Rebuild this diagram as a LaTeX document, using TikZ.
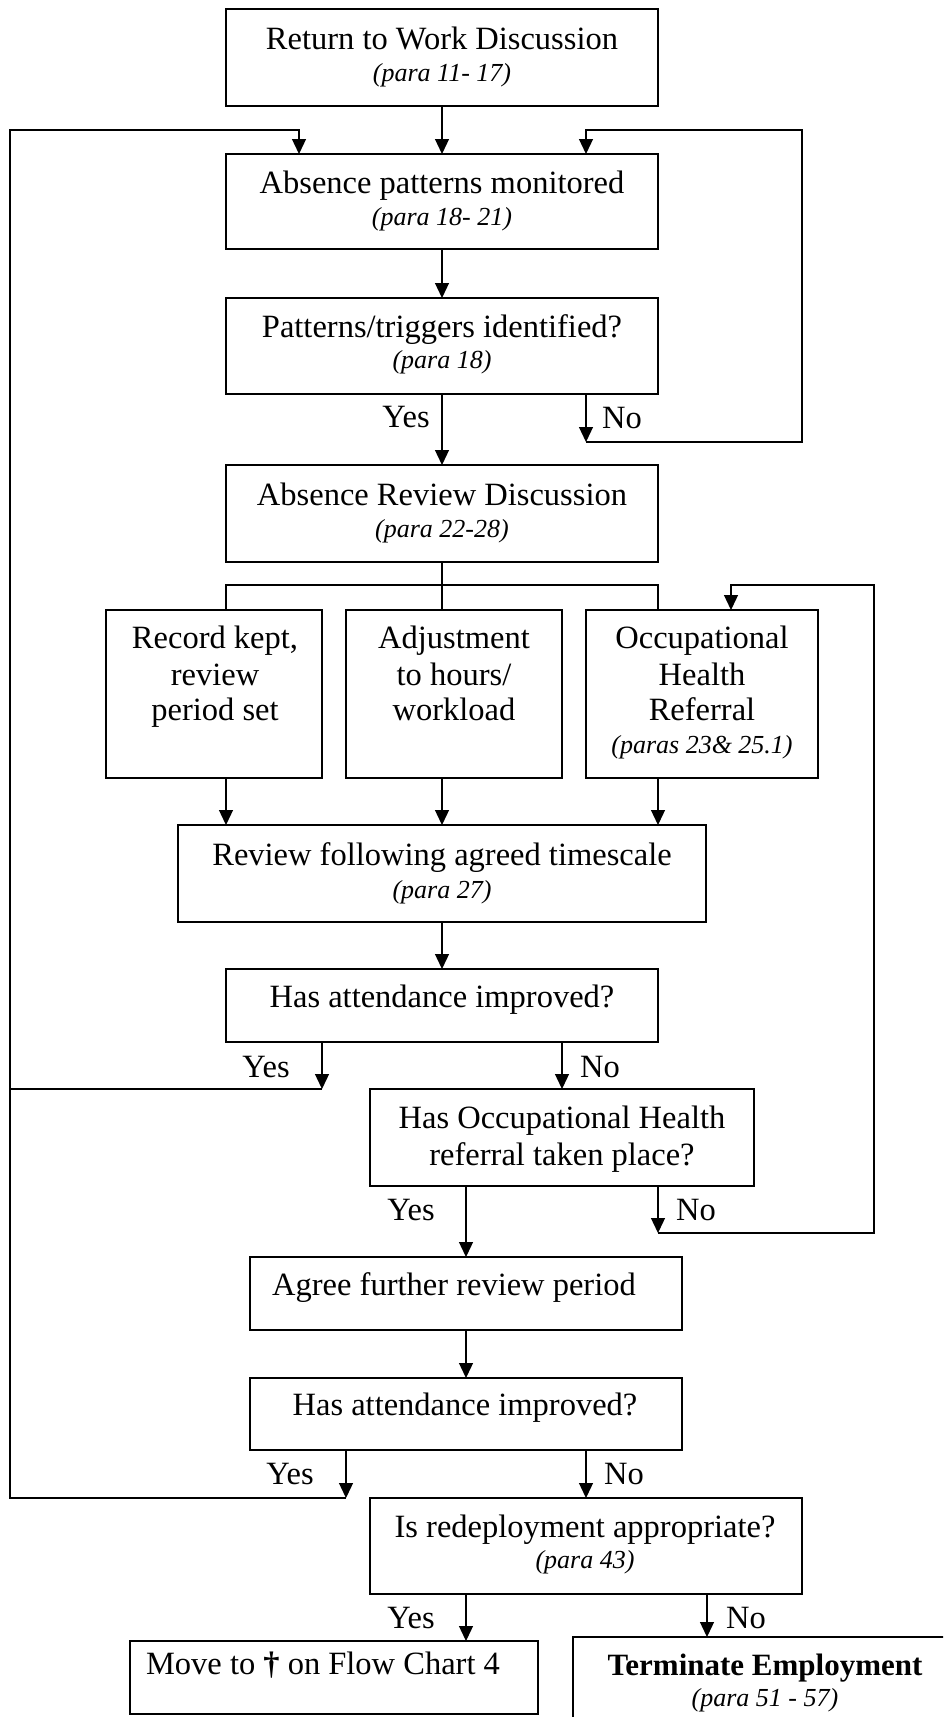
\documentclass[tikz,border=0pt]{standalone}
\usepackage{fontspec}
\setmainfont{Liberation Serif}
\usetikzlibrary{arrows.meta}
\begin{document}
\begin{tikzpicture}[x=1pt,y=-1pt,
  box/.style={draw,line width=1.4pt,rectangle,inner sep=0pt,outer sep=0pt},
  txt/.style={anchor=base,inner sep=0pt,font=\fontsize{32.5}{38}\selectfont},
  itx/.style={anchor=base,inner sep=0pt,font=\fontsize{26}{32}\selectfont\itshape},
  ln/.style={line width=1.25pt},
  arr/.style={ln,-{Triangle[length=15pt,width=14pt]}}]
\clip (0,0) rectangle (943,1717);
\fill[white] (0,0) rectangle (943,1717);
% column / row helpers
\coordinate (xL) at (10,0);
\coordinate (x299) at (299,0);
\coordinate (x586) at (586,0);
\coordinate (x802) at (802,0);
\coordinate (x874) at (874,0);
\coordinate (x731) at (731,0);
\coordinate (x226) at (226,0);
\coordinate (x442) at (442,0);
\coordinate (x658) at (658,0);
\coordinate (x322) at (322,0);
\coordinate (x346) at (346,0);
\coordinate (x466) at (466,0);
\coordinate (x707) at (707,0);
\coordinate (top) at (0,130);
\coordinate (r442) at (0,442);
\coordinate (br) at (0,585);
\coordinate (r1233) at (0,1233);
% boxes
\node[box,minimum width=432,minimum height=97] (b1) at (442,57.5) {};
\node[box,minimum width=432,minimum height=95] (b2) at (442,201.5) {};
\node[box,minimum width=432,minimum height=96] (b3) at (442,346) {};
\node[box,minimum width=432,minimum height=97] (b4) at (442,513.5) {};
\node[box,minimum width=216,minimum height=168] (bA) at (214,694) {};
\node[box,minimum width=216,minimum height=168] (bB) at (454,694) {};
\node[box,minimum width=232,minimum height=168] (bC) at (702,694) {};
\node[box,minimum width=528,minimum height=97] (b5) at (442,873.5) {};
\node[box,minimum width=432,minimum height=73] (b6) at (442,1005.5) {};
\node[box,minimum width=384,minimum height=97] (b7) at (562,1137.5) {};
\node[box,minimum width=432,minimum height=73] (b8) at (466,1293.5) {};
\node[box,minimum width=432,minimum height=72] (b9) at (466,1414) {};
\node[box,minimum width=432,minimum height=96] (b10) at (586,1546) {};
\node[box,minimum width=408,minimum height=73] (b11) at (334,1677.5) {};
\node[box,minimum width=407,minimum height=123] (b12) at (776.5,1698.5) {};
% texts
\node[txt] (t1a) at (442,49) {Return to Work Discussion};
\node[itx] (t1b) at (442,81) {(para 11- 17)};
\node[txt] (t2a) at (442,193) {Absence patterns monitored};
\node[itx] (t2b) at (442,225) {(para 18- 21)};
\node[txt] (t3a) at (442,337) {Patterns/triggers identified?};
\node[itx] (t3b) at (442,368) {(para 18)};
\node[txt] (t4a) at (442,505) {Absence Review Discussion};
\node[itx] (t4b) at (442,537) {(para 22-28)};
\node[txt] (tAa) at (215,648) {Record kept,};
\node[txt] (tAb) at (215,685) {review};
\node[txt] (tAc) at (215,720) {period set};
\node[txt] (tBa) at (454,648) {Adjustment};
\node[txt] (tBb) at (454,685) {to hours/};
\node[txt] (tBc) at (454,720) {workload};
\node[txt] (tCa) at (702,648) {Occupational};
\node[txt] (tCb) at (702,685) {Health};
\node[txt] (tCc) at (702,720) {Referral};
\node[itx] (tCd) at (702,753) {(paras 23\& 25.1)};
\node[txt] (t5a) at (442,865) {Review following agreed timescale};
\node[itx] (t5b) at (442,898) {(para 27)};
\node[txt] (t6) at (442,1007) {Has attendance improved?};
\node[txt] (t7a) at (562,1128) {Has Occupational Health};
\node[txt] (t7b) at (562,1165) {referral taken place?};
\node[txt] (t8) at (454,1295) {Agree further review period};
\node[txt] (t9) at (465,1415) {Has attendance improved?};
\node[txt] (t10a) at (585,1537) {Is redeployment appropriate?};
\node[itx] (t10b) at (585,1568) {(para 43)};
\node[txt] (t11) at (323,1674) {Move to \textbf{†} on Flow Chart 4};
\node[txt,font=\fontsize{31}{36}\selectfont\bfseries] (t12a) at (765,1675) {Terminate Employment};
\node[itx] (t12b) at (765,1706) {(para 51 - 57)};
% yes / no labels
\node[txt] (y3) at (406,427) {Yes};
\node[txt] (n3) at (622,428) {No};
\node[txt] (y6) at (266,1077) {Yes};
\node[txt] (n6) at (600,1077) {No};
\node[txt] (y7) at (411,1220) {Yes};
\node[txt] (n7) at (696,1220) {No};
\node[txt] (y9) at (290,1484) {Yes};
\node[txt] (n9) at (624,1484) {No};
\node[txt] (y10) at (411,1628) {Yes};
\node[txt] (n10) at (746,1628) {No};
% connectors
\draw[arr] (b1.south) -- (b2.north);
\draw[arr] (b2.south) -- (b3.north);
\draw[arr] (b3.south) -- (b4.north);
\draw[arr] (b3.south -| x586) -- (r442 -| x586);
\draw[arr] (r442 -| x586) -- (r442 -| x802) -- (top -| x802) -- (top -| x586) -- (b2.north -| x586);
\draw[ln] (b4.south) -- (br -| x442);
\draw[ln] (bA.north -| x226) -- (br -| x226) -- (br -| x658) -- (bC.north -| x658);
\draw[ln] (br -| x442) -- (bB.north -| x442);
\draw[arr] (bA.south -| x226) -- (b5.north -| x226);
\draw[arr] (bB.south -| x442) -- (b5.north -| x442);
\draw[arr] (bC.south -| x658) -- (b5.north -| x658);
\draw[arr] (b5.south) -- (b6.north);
\draw[arr] (b6.south -| x322) -- (b7.north -| x322);
\draw[ln] (b7.north -| x322) -- (b7.north -| xL);
\draw[arr] (b6.south -| b7.north) -- (b7.north);
\draw[arr] (b7.south -| x658) -- (r1233 -| x658);
\draw[arr] (r1233 -| x658) -- (r1233 -| x874) -- (br -| x874) -- (br -| x731) -- (bC.north -| x731);
\draw[arr] (b7.south -| x466) -- (b8.north);
\draw[arr] (b8.south) -- (b9.north);
\draw[arr] (b9.south -| x346) -- (b10.north -| x346);
\draw[arr] (b10.north -| x346) -- (b10.north -| xL) -- (top -| xL) -- (top -| x299) -- (b2.north -| x299);
\draw[arr] (b9.south -| b10.north) -- (b10.north);
\draw[arr] (b10.south -| x466) -- (b11.north -| x466);
\draw[arr] (b10.south -| x707) -- (b12.north -| x707);
\end{tikzpicture}
\end{document}
